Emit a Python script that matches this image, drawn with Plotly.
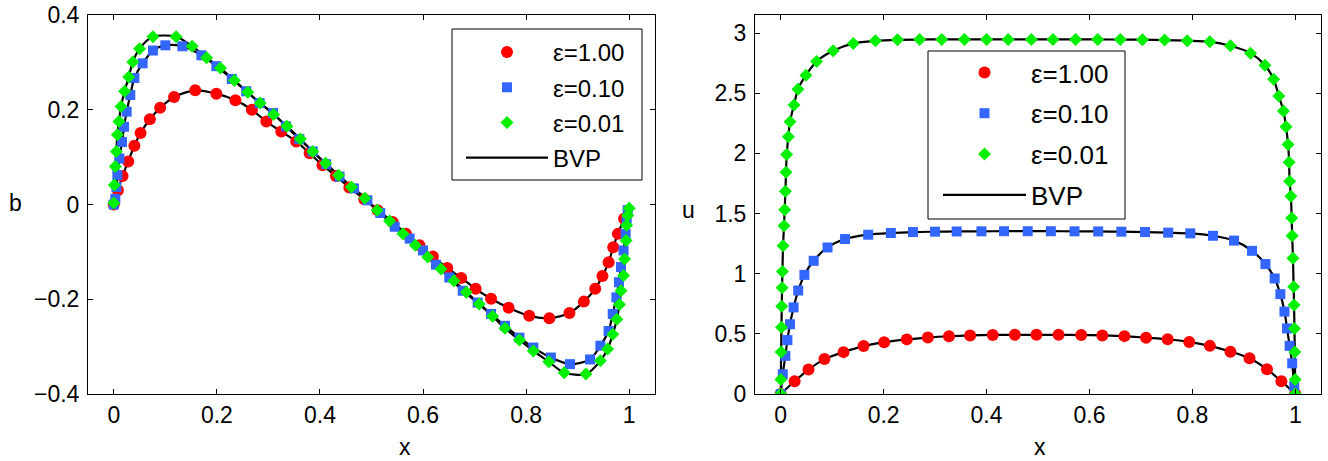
import plotly.graph_objects as go

# ---------------- data: left panel (b) ----------------
b_x_e1 = [0, 0.008, 0.017, 0.028, 0.04, 0.052, 0.07, 0.09, 0.117, 0.158, 0.199, 0.236, 0.268,
          0.296, 0.325, 0.354, 0.38, 0.405, 0.431, 0.457, 0.486, 0.512, 0.541, 0.567, 0.593,
          0.619, 0.647, 0.674, 0.702, 0.732, 0.766, 0.806, 0.845, 0.884, 0.912, 0.934, 0.948,
          0.96, 0.969, 0.978, 0.99]
b_y_e1 = [0, 0.03, 0.06, 0.091, 0.124, 0.151, 0.18, 0.204, 0.227, 0.241, 0.234, 0.22, 0.2,
          0.175, 0.154, 0.133, 0.108, 0.083, 0.06, 0.036, 0.011, -0.012, -0.037, -0.062, -0.086,
          -0.11, -0.134, -0.155, -0.178, -0.199, -0.218, -0.235, -0.24, -0.229, -0.205, -0.178,
          -0.151, -0.122, -0.09, -0.062, -0.03]

b_x_e2 = [0, 0.003, 0.005, 0.007, 0.011, 0.016, 0.02, 0.025, 0.032, 0.04, 0.056, 0.076, 0.1,
          0.133, 0.17, 0.199, 0.229, 0.257, 0.283, 0.309, 0.334, 0.36, 0.386, 0.412, 0.438,
          0.466, 0.492, 0.517, 0.545, 0.574, 0.6, 0.625, 0.651, 0.677, 0.706, 0.732, 0.759,
          0.787, 0.814, 0.848, 0.885, 0.924, 0.944, 0.96, 0.968, 0.975, 0.98, 0.984, 0.989,
          0.993, 0.995, 0.997]
b_y_e2 = [0, 0.012, 0.037, 0.062, 0.097, 0.132, 0.164, 0.196, 0.231, 0.267, 0.298, 0.325, 0.336,
          0.334, 0.315, 0.292, 0.265, 0.239, 0.214, 0.193, 0.165, 0.138, 0.112, 0.085, 0.059,
          0.034, 0.009, -0.018, -0.047, -0.072, -0.097, -0.127, -0.154, -0.182, -0.207, -0.231,
          -0.256, -0.281, -0.302, -0.323, -0.337, -0.327, -0.298, -0.267, -0.231, -0.196, -0.164,
          -0.132, -0.097, -0.062, -0.037, -0.012]

b_x_e3 = [0, 0.001, 0.003, 0.005, 0.007, 0.01, 0.014, 0.021, 0.029, 0.037, 0.05, 0.076, 0.121,
          0.152, 0.18, 0.207, 0.234, 0.26, 0.284, 0.31, 0.336, 0.362, 0.386, 0.411, 0.436, 0.461,
          0.487, 0.511, 0.535, 0.561, 0.585, 0.609, 0.635, 0.66, 0.684, 0.709, 0.735, 0.759,
          0.787, 0.814, 0.844, 0.874, 0.916, 0.944, 0.958, 0.968, 0.976, 0.981, 0.984, 0.989,
          0.991, 0.994, 0.995, 0.997, 1.0]
b_y_e3 = [0.003, 0.041, 0.08, 0.112, 0.147, 0.175, 0.207, 0.239, 0.269, 0.301, 0.329, 0.354,
          0.354, 0.334, 0.31, 0.288, 0.262, 0.237, 0.214, 0.19, 0.165, 0.138, 0.112, 0.087,
          0.062, 0.037, 0.013, -0.012, -0.035, -0.062, -0.086, -0.111, -0.136, -0.161, -0.185,
          -0.21, -0.236, -0.261, -0.286, -0.309, -0.332, -0.355, -0.358, -0.33, -0.305, -0.274,
          -0.242, -0.211, -0.182, -0.15, -0.115, -0.076, -0.044, -0.023, -0.008]

# ---------------- data: right panel (u) ----------------
u_x_e1 = [0, 0.027, 0.054, 0.085, 0.122, 0.161, 0.201, 0.245, 0.286, 0.327, 0.368, 0.412, 0.455,
          0.497, 0.54, 0.584, 0.625, 0.668, 0.71, 0.752, 0.794, 0.834, 0.874, 0.911, 0.945,
          0.973, 1.0]
u_y_e1 = [0, 0.106, 0.203, 0.29, 0.348, 0.398, 0.431, 0.454, 0.469, 0.48, 0.487, 0.491, 0.492,
          0.492, 0.492, 0.49, 0.487, 0.481, 0.468, 0.455, 0.433, 0.4, 0.352, 0.297, 0.206,
          0.106, 0]

u_x_e2 = [0, 0.004, 0.009, 0.013, 0.018, 0.025, 0.034, 0.046, 0.064, 0.091, 0.125, 0.17, 0.214,
          0.257, 0.3, 0.342, 0.39, 0.434, 0.48, 0.525, 0.571, 0.617, 0.662, 0.708, 0.753, 0.796,
          0.84, 0.881, 0.916, 0.942, 0.96, 0.971, 0.979, 0.984, 0.989, 0.994, 0.998]
u_y_e2 = [0, 0.164, 0.317, 0.448, 0.58, 0.72, 0.86, 0.99, 1.107, 1.218, 1.288, 1.324, 1.338,
          1.346, 1.349, 1.351, 1.352, 1.353, 1.353, 1.353, 1.352, 1.351, 1.349, 1.346, 1.341,
          1.335, 1.315, 1.275, 1.19, 1.08, 0.96, 0.83, 0.685, 0.545, 0.4, 0.255, 0.065]

u_x_e3 = [0, 0.0003, 0.0008, 0.0015, 0.002, 0.0027, 0.0033, 0.0045, 0.0064, 0.0077, 0.0091,
          0.0103, 0.0116, 0.0149, 0.018, 0.0258, 0.0335, 0.049, 0.0697, 0.102, 0.141, 0.184,
          0.227, 0.27, 0.313, 0.357, 0.4, 0.442, 0.487, 0.529, 0.573, 0.616, 0.66, 0.703, 0.746,
          0.79, 0.834, 0.874, 0.913, 0.941, 0.958, 0.968, 0.977, 0.982, 0.986, 0.988, 0.989,
          0.9915, 0.993, 0.994, 0.9955, 0.9968, 0.9976, 0.9984, 0.9991, 0.9997, 1.0]
u_y_e3 = [0, 0.12, 0.35, 0.554, 0.73, 0.884, 1.018, 1.232, 1.399, 1.532, 1.685, 1.843, 1.99,
          2.138, 2.263, 2.402, 2.533, 2.65, 2.764, 2.852, 2.914, 2.936, 2.944, 2.946, 2.947,
          2.947, 2.947, 2.947, 2.947, 2.947, 2.947, 2.947, 2.946, 2.945, 2.942, 2.937, 2.928,
          2.894, 2.833, 2.733, 2.616, 2.477, 2.352, 2.222, 2.074, 1.927, 1.768, 1.643, 1.463,
          1.315, 1.129, 0.892, 0.74, 0.545, 0.35, 0.12, 0]

labels = ["ε=1.00", "ε=0.10", "ε=0.01"]
bvp_label = "BVP"
x_ticks = [0, 0.2, 0.4, 0.6, 0.8, 1]
b_ticks = [-0.4, -0.2, 0, 0.2, 0.4]
u_ticks = [0, 0.5, 1, 1.5, 2, 2.5, 3]

# ---------------- styling ----------------
W, H = 1328, 461
FONT = "Liberation Sans, Arial, Helvetica, sans-serif"
colors = ["#ff0000", "#3366ff", "#00f000"]
symbols = ["circle", "square", "diamond"]
msizes = [12, 10, 10]

fig = go.Figure()

panels = [
    ("x", "y", "legend", [(b_x_e1, b_y_e1), (b_x_e2, b_y_e2), (b_x_e3, b_y_e3)]),
    ("x2", "y2", "legend2", [(u_x_e1, u_y_e1), (u_x_e2, u_y_e2), (u_x_e3, u_y_e3)]),
]

for xa, ya, leg, series in panels:
    for i, (xs, ys) in enumerate(series):
        fig.add_trace(go.Scatter(
            x=xs, y=ys, mode="lines", xaxis=xa, yaxis=ya,
            line=dict(color="black", width=2.2, shape="spline", smoothing=0.8),
            name=bvp_label, legend=leg, legendgroup=leg + "bvp",
            showlegend=(i == 0), legendrank=4, hoverinfo="skip"))
    for i, (xs, ys) in enumerate(series):
        fig.add_trace(go.Scatter(
            x=xs, y=ys, mode="markers", xaxis=xa, yaxis=ya,
            marker=dict(color=colors[i], symbol=symbols[i], size=msizes[i], line=dict(width=0)),
            name=labels[i], legend=leg, legendgroup=leg + str(i), legendrank=i + 1))

axis_common = dict(
    showline=True, linecolor="black", linewidth=1, mirror="ticks",
    ticks="inside", ticklen=5, tickwidth=1, tickcolor="black",
    showgrid=False, zeroline=False,
    tickfont=dict(family=FONT, size=23, color="black"),
)

def px_x(v):
    return v / W

def px_y(v):
    return 1 - v / H

fig.update_layout(
    width=W, height=H,
    margin=dict(l=0, r=0, t=0, b=0, autoexpand=False),
    paper_bgcolor="white", plot_bgcolor="white",
    showlegend=True,
    xaxis=dict(domain=[px_x(88), px_x(655)], range=[-0.05, 1.05], tickvals=x_ticks,
               ticktext=["0", "0.2", "0.4", "0.6", "0.8", "1"], anchor="y", **axis_common),
    yaxis=dict(domain=[px_y(394), px_y(15)], range=[-0.4, 0.4], tickvals=b_ticks,
               ticktext=["\u22120.4", "\u22120.2", "0", "0.2", "0.4"], anchor="x",
               ticklabelstandoff=3, **axis_common),
    xaxis2=dict(domain=[px_x(755), px_x(1321)], range=[-0.05, 1.05], tickvals=x_ticks,
                ticktext=["0", "0.2", "0.4", "0.6", "0.8", "1"], anchor="y2", **axis_common),
    yaxis2=dict(domain=[px_y(394), px_y(15)], range=[0, 3.15], tickvals=u_ticks,
                ticktext=["0", "0.5", "1", "1.5", "2", "2.5", "3"], anchor="x2",
                ticklabelstandoff=3, **axis_common),
    legend=dict(x=px_x(461), y=px_y(30), xanchor="left", yanchor="top",
                bgcolor="rgba(0,0,0,0)", borderwidth=0,
                font=dict(family=FONT, size=24, color="black"),
                itemwidth=82, tracegroupgap=1, itemclick=False, itemdoubleclick=False),
    legend2=dict(x=px_x(938), y=px_y(49), xanchor="left", yanchor="top",
                 bgcolor="rgba(0,0,0,0)", borderwidth=0,
                 font=dict(family=FONT, size=26, color="black"),
                 itemwidth=83, tracegroupgap=4, itemclick=False, itemdoubleclick=False),
)

# legend frames
for (x0, y0, x1, y1) in [(452, 29, 642, 180), (928, 51, 1125, 219)]:
    fig.add_shape(type="rect", xref="paper", yref="paper",
                  x0=px_x(x0), x1=px_x(x1), y0=px_y(y1), y1=px_y(y0),
                  line=dict(color="black", width=1), fillcolor="white", layer="above")

ann_font = dict(family=FONT, size=23, color="black")
for txt, x, y in [("b", 15, 203), ("u", 688, 210), ("x", 405, 447), ("x", 1040, 447)]:
    fig.add_annotation(text=txt, x=px_x(x), y=px_y(y), xref="paper", yref="paper",
                       xanchor="center", yanchor="middle", showarrow=False, font=ann_font)

fig.write_html("out.html", config={"displayModeBar": False},
               post_script="document.body.style.margin='0';document.body.style.overflow='hidden';")
